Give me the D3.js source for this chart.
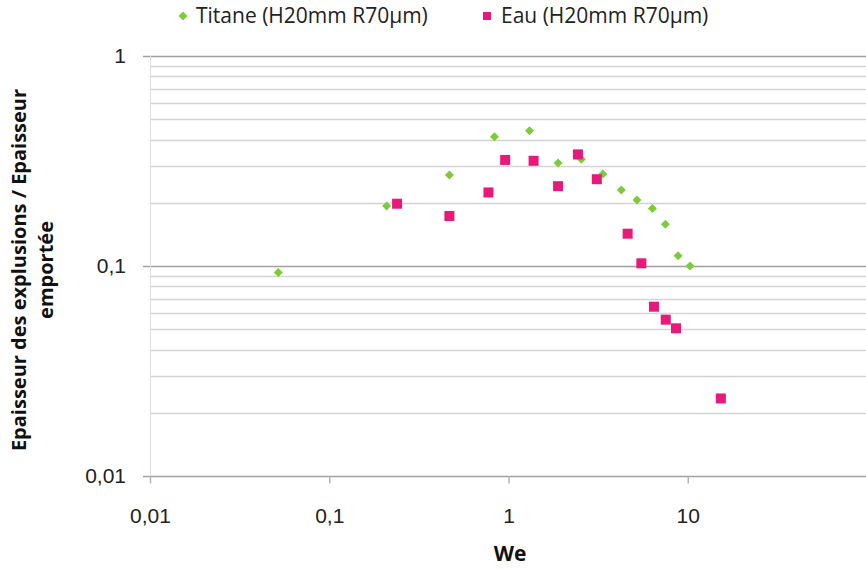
<!DOCTYPE html>
<html>
<head>
<meta charset="utf-8">
<script src="https://cdn.jsdelivr.net/npm/d3@7"></script>
<style>
  body { margin: 0; background: #fff; }
  svg { display: block; font-family: "Open Sans", "Liberation Sans", sans-serif; }
</style>
</head>
<body>
<div id="chart"></div>
<script>
// Titane (H20mm R70µm) - green diamonds
var titaneWe = [0.052, 0.209, 0.468, 0.835, 1.31, 1.89, 2.55, 3.36, 4.26, 5.21, 6.35, 7.50, 8.83, 10.3];
var titaneRatio = [0.093, 0.193, 0.271, 0.413, 0.441, 0.309, 0.322, 0.274, 0.230, 0.206, 0.188, 0.158, 0.112, 0.100];

// Eau (H20mm R70µm) - pink squares
var eauWe = [0.239, 0.468, 0.773, 0.958, 1.38, 1.89, 2.44, 3.11, 4.62, 5.51, 6.48, 7.54, 8.60, 15.3];
var eauRatio = [0.198, 0.173, 0.224, 0.320, 0.317, 0.240, 0.340, 0.259, 0.1425, 0.103, 0.064, 0.0555, 0.0505, 0.0234];

var xTicks = [0.01, 0.1, 1, 10];
var yTicks = [0.01, 0.1, 1];
var seriesNames = ['Titane (H20mm R70µm)', 'Eau (H20mm R70µm)'];

var width = 866, height = 569;
var green = '#7dcb3a', pink = '#e8197a';
var fontSize = '21px';

var svg = d3.select('#chart').append('svg')
    .attr('width', width).attr('height', height);

var x = d3.scaleLog().domain([0.01, 100]).range([150, 867]);
var y = d3.scaleLog().domain([0.01, 1]).range([476, 56]);

function fmt(d) { return String(d).replace('.', ','); }

// minor gridlines
var minor = [];
[0.01, 0.1].forEach(function (dec) {
    for (var k = 2; k <= 9; k++) minor.push(dec * k);
});
svg.append('g').selectAll('line').data(minor).enter().append('line')
    .attr('x1', 150).attr('x2', width)
    .attr('y1', function (d) { return Math.round(y(d)) + 0.5; })
    .attr('y2', function (d) { return Math.round(y(d)) + 0.5; })
    .attr('stroke', '#d4d4d4').attr('stroke-width', 1.5);

// major gridlines
svg.append('g').selectAll('line').data(yTicks).enter().append('line')
    .attr('x1', 150).attr('x2', width)
    .attr('y1', function (d) { return Math.round(y(d)) + 0.5; })
    .attr('y2', function (d) { return Math.round(y(d)) + 0.5; })
    .attr('stroke', '#a0a0a0').attr('stroke-width', 1.5);

// y axis line
svg.append('line')
    .attr('x1', 150.5).attr('x2', 150.5).attr('y1', 56).attr('y2', 476)
    .attr('stroke', '#e0e0e0').attr('stroke-width', 1);

// y axis
var yAxis = svg.append('g').attr('transform', 'translate(150,0)')
    .call(d3.axisLeft(y).tickValues(yTicks).tickFormat(fmt).tickSize(7).tickPadding(17));
yAxis.select('.domain').remove();
yAxis.selectAll('line').attr('stroke', '#a0a0a0').attr('stroke-width', 1.5);
yAxis.selectAll('text').attr('font-size', fontSize).attr('fill', '#222').attr('dy', '0.32em');

// x axis
var xAxis = svg.append('g').attr('transform', 'translate(0,' + (Math.round(y(0.01)) + 0.5) + ')')
    .call(d3.axisBottom(x).tickValues(xTicks).tickFormat(fmt).tickSize(7).tickPadding(25));
xAxis.select('.domain').remove();
xAxis.selectAll('line').attr('stroke', '#b4b4b4').attr('stroke-width', 1.5);
xAxis.selectAll('text').attr('font-size', fontSize).attr('fill', '#222');

// axis titles
svg.append('text').attr('x', 510).attr('y', 561)
    .attr('text-anchor', 'middle').attr('font-size', fontSize).attr('font-weight', 'bold')
    .attr('fill', '#111').text('We');

var yTitle = svg.append('text')
    .attr('transform', 'translate(26,270) rotate(-90)')
    .attr('text-anchor', 'middle').attr('font-size', '20px').attr('font-weight', 'bold')
    .attr('fill', '#111');
yTitle.append('tspan').attr('x', 0).attr('dy', 0).text('Epaisseur des explusions / Epaisseur');
yTitle.append('tspan').attr('x', 0).attr('dy', 27).text('emportée');

// points
var titane = titaneWe.map(function (d, i) { return [d, titaneRatio[i]]; });
var eau = eauWe.map(function (d, i) { return [d, eauRatio[i]]; });

svg.append('g').selectAll('path').data(titane).enter().append('path')
    .attr('d', 'M0,-4.5L4.5,0L0,4.5L-4.5,0Z')
    .attr('transform', function (d) { return 'translate(' + x(d[0]) + ',' + y(d[1]) + ')'; })
    .attr('fill', green);

svg.append('g').selectAll('rect').data(eau).enter().append('rect')
    .attr('x', function (d) { return x(d[0]) - 5; })
    .attr('y', function (d) { return y(d[1]) - 5; })
    .attr('width', 10).attr('height', 10)
    .attr('fill', pink);

// legend
var legend = svg.append('g');
legend.append('path').attr('d', 'M0,-4.5L4.5,0L0,4.5L-4.5,0Z')
    .attr('transform', 'translate(183,16)').attr('fill', green);
legend.append('text').attr('x', 196).attr('y', 23).attr('font-size', fontSize)
    .attr('fill', '#222').text(seriesNames[0]);
legend.append('rect').attr('x', 483).attr('y', 12).attr('width', 8).attr('height', 8)
    .attr('fill', pink);
legend.append('text').attr('x', 501).attr('y', 23).attr('font-size', fontSize)
    .attr('fill', '#222').text(seriesNames[1]);
</script>
</body>
</html>
